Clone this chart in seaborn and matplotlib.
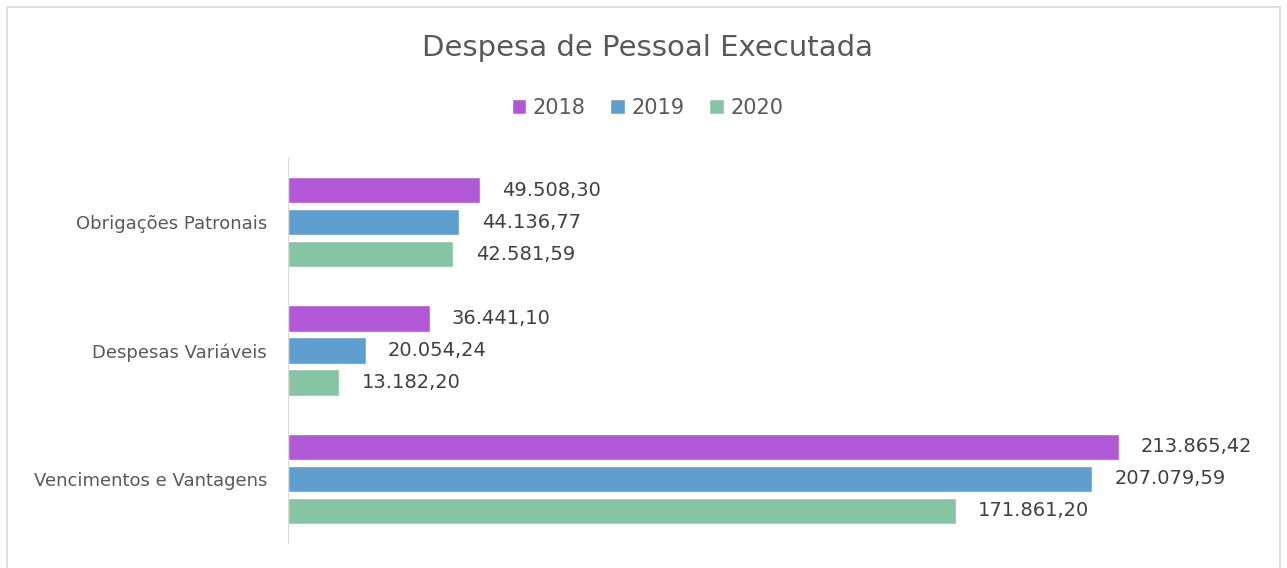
import numpy as np
import pandas as pd
import matplotlib.pyplot as plt
from matplotlib.patches import Rectangle
import seaborn as sns

categorias = ["Obrigações Patronais", "Despesas Variáveis", "Vencimentos e Vantagens"]
anos = ["2018", "2019", "2020"]
v2018 = [49508.30, 36441.10, 213865.42]
v2019 = [44136.77, 20054.24, 207079.59]
v2020 = [42581.59, 13182.20, 171861.20]
cores = ["#B158D6", "#5F9FCF", "#87C4A3"]

df = pd.DataFrame({
    "categoria": categorias * 3,
    "ano": [a for a in anos for _ in categorias],
    "valor": v2018 + v2019 + v2020,
})

sns.set_style("white")
plt.rcParams["font.family"] = ["DejaVu Sans"]
cinza = "#595959"

fig = plt.figure(figsize=(12.87, 5.68), dpi=100)
ax = fig.add_axes([288 / 1287, 1 - 543 / 568, 971 / 1287, 385 / 568])

sns.barplot(data=df, y="categoria", x="valor", hue="ano", order=categorias,
            hue_order=anos, palette=cores, width=0.75, gap=0.18,
            orient="h", ax=ax, saturation=1, errorbar=None)

def fmt(v):
    s = "{:,.2f}".format(v)
    return s.replace(",", "X").replace(".", ",").replace("X", ".")

for cont in ax.containers:
    ax.bar_label(cont, labels=[fmt(b.get_width()) for b in cont],
                 padding=16, fontsize=14, color="#404040")

ax.set_xlim(0, 250000)
ax.set_xlabel("")
ax.set_ylabel("")
ax.set_xticks([])
ax.tick_params(axis="y", labelsize=13, colors=cinza, length=0, pad=15)
for s in ["top", "right", "bottom"]:
    ax.spines[s].set_visible(False)
ax.spines["left"].set_color("#D9D9D9")
ax.legend_.remove()

h, l = ax.get_legend_handles_labels()
fig.legend(h, l, loc="center", bbox_to_anchor=(0.503, 1 - 108 / 568), ncol=3,
           frameon=False, fontsize=15, labelcolor=cinza, handlelength=0.7,
           handleheight=0.7, handletextpad=0.3, columnspacing=1.2)

fig.text(0.503, 1 - 48 / 568, "Despesa de Pessoal Executada", ha="center",
         va="center", fontsize=21, color=cinza)

fig.add_artist(Rectangle((7 / 1287, -0.02), 1273 / 1287, 1.02 - 7 / 568,
                         transform=fig.transFigure, fill=False,
                         edgecolor="#D9D9D9", linewidth=1.2))

fig.savefig("out.png", dpi=100)
